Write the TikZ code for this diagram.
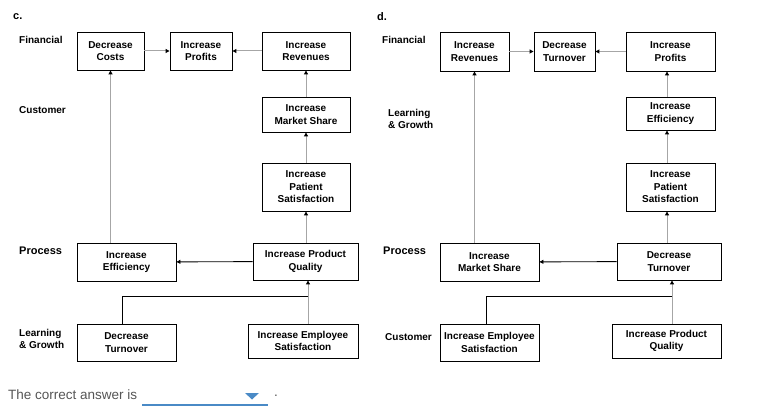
\documentclass[tikz,border=0pt]{standalone}
\usepackage{fontspec}
\setmainfont{Liberation Sans}
\usepackage{tikz}
\usetikzlibrary{arrows.meta}
\usepackage{xcolor}
\definecolor{linkgray}{HTML}{A6A6A6}
\definecolor{answerblue}{HTML}{4A8AC6}
\definecolor{prompt}{HTML}{555555}

\begin{document}
\begin{tikzpicture}[x=1pt,y=-1pt,
  goal/.style={draw, line width=0.9pt, inner sep=0pt, align=center, font=\fontsize{10}{12.5}\selectfont\bfseries},
  side/.style={anchor=west, align=left, inner sep=0pt, font=\fontsize{10}{12}\selectfont\bfseries},
  soft/.style={draw=linkgray, line width=1pt, -{Triangle[length=4pt,width=4pt,black]}},
  hard/.style={draw=black, line width=0.9pt}]
  \useasboundingbox (0,0) rectangle (770,419);

  \node[side, font=\fontsize{11}{12}\selectfont\bfseries] (cTag) at (13,17) {c.};
  \node[side] (cFin) at (19,40) {Financial};
  \node[side] (cCust) at (19,110) {Customer};
  \node[side, font=\fontsize{11}{12}\selectfont\bfseries] (cProc) at (19,251) {Process};
  \node[side] (cLearn) at (19,339) {Learning\\\& Growth};

  \node[goal, minimum width=67pt, minimum height=38pt] (cCosts) at (110.5,51) {Decrease\\Costs};
  \node[goal, minimum width=62pt, minimum height=38pt] (cProfits) at (201,51) {Increase\\Profits};
  \node[goal, minimum width=88pt, minimum height=38pt] (cRev) at (306,51) {Increase\\Revenues};
  \node[goal, minimum width=88pt, minimum height=35pt] (cShare) at (306,114.5) {Increase\\Market Share};
  \node[goal, minimum width=88pt, minimum height=48pt] (cPatient) at (306,187) {Increase\\Patient\\Satisfaction};
  \node[goal, minimum width=99pt, minimum height=38pt] (cEff) at (126.5,262) {Increase\\Efficiency};
  \node[goal, minimum width=105pt, minimum height=37pt] (cQual) at (305.5,261.5) {Increase Product\\Quality};
  \node[goal, minimum width=99pt, minimum height=37pt] (cTurn) at (126.5,342.5) {Decrease\\Turnover};
  \node[goal, minimum width=110pt, minimum height=34pt] (cEmpl) at (303,341) {Increase Employee\\Satisfaction};

  \draw[soft] (cCosts) -- (cProfits);
  \draw[soft] (cRev) -- (cProfits);
  \draw[soft] (cShare) -- (cRev);
  \draw[soft] (cPatient) -- (cShare);
  \draw[soft] (cQual.north -| cPatient.south) -- (cPatient.south);
  \draw[soft] (cEff.north -| cCosts.south) -- (cCosts.south);
  \draw[hard, -{Triangle[length=4pt,width=4pt]}] (cQual) -- (cEff);
  \coordinate (cJoin) at (308,296);
  \coordinate (cTurnTop) at ([xshift=-4.5pt]cTurn.north);
  \draw[soft] (cEmpl.north -| cJoin) -- (cQual.south -| cJoin);
  \draw[hard] (cTurnTop) |- (cJoin);

  \node[side, font=\fontsize{11}{12}\selectfont\bfseries] (dTag) at (377,17) {d.};
  \node[side] (dFin) at (382,40) {Financial};
  \node[side] (dLearn) at (388,119) {Learning\\\& Growth};
  \node[side, font=\fontsize{11}{12}\selectfont\bfseries] (dProc) at (383,251) {Process};
  \node[side] (dCust) at (385,337) {Customer};

  \node[goal, minimum width=69pt, minimum height=39pt] (dRev) at (474.5,51.5) {Increase\\Revenues};
  \node[goal, minimum width=61pt, minimum height=39pt] (dTurn) at (564.5,51.5) {Decrease\\Turnover};
  \node[goal, minimum width=89pt, minimum height=39pt] (dProfits) at (670.5,51.5) {Increase\\Profits};
  \node[goal, minimum width=89pt, minimum height=33pt] (dEff) at (670.5,113.5) {Increase\\Efficiency};
  \node[goal, minimum width=89pt, minimum height=48pt] (dPatient) at (670.5,187) {Increase\\Patient\\Satisfaction};
  \node[goal, minimum width=99pt, minimum height=38pt] (dShare) at (489.5,262) {Increase\\Market Share};
  \node[goal, minimum width=104pt, minimum height=37pt] (dTurnP) at (669,261.5) {Decrease\\Turnover};
  \node[goal, minimum width=99pt, minimum height=37pt] (dEmpl) at (489.5,342.5) {Increase Employee\\Satisfaction};
  \node[goal, minimum width=109pt, minimum height=34pt] (dQual) at (666.5,341) {Increase Product\\Quality};

  \draw[soft] (dRev) -- (dTurn);
  \draw[soft] (dProfits) -- (dTurn);
  \coordinate (dRise) at (667,0);
  \draw[soft] (dEff.north -| dRise) -- (dProfits.south -| dRise);
  \draw[soft] (dPatient.north -| dRise) -- (dEff.south -| dRise);
  \draw[soft] (dTurnP.north -| dRise) -- (dPatient.south -| dRise);
  \draw[soft] (dShare.north -| dRev.south) -- (dRev.south);
  \draw[hard, -{Triangle[length=4pt,width=4pt]}] (dTurnP) -- (dShare);
  \coordinate (dJoin) at (672,296);
  \coordinate (dEmplTop) at ([xshift=-3.5pt]dEmpl.north);
  \draw[soft] (dQual.north -| dJoin) -- (dTurnP.south -| dJoin);
  \draw[hard] (dEmplTop) |- (dJoin);

  \node[anchor=west, inner sep=0pt, text=prompt, font=\fontsize{13.5}{15}\selectfont] (answerText) at (8,395) {The correct answer is};
  \coordinate (pickLeft) at (142,405);
  \coordinate (pickRight) at (268,405);
  \draw[answerblue, line width=1.6pt] (pickLeft) -- (pickRight);
  \fill[answerblue] (245,393) -- (259,393) -- (252,399.5) -- cycle;
  \node[inner sep=0pt, text=prompt, font=\fontsize{13.5}{15}\selectfont] (answerDot) at (276,396) {.};
\end{tikzpicture}
\end{document}
